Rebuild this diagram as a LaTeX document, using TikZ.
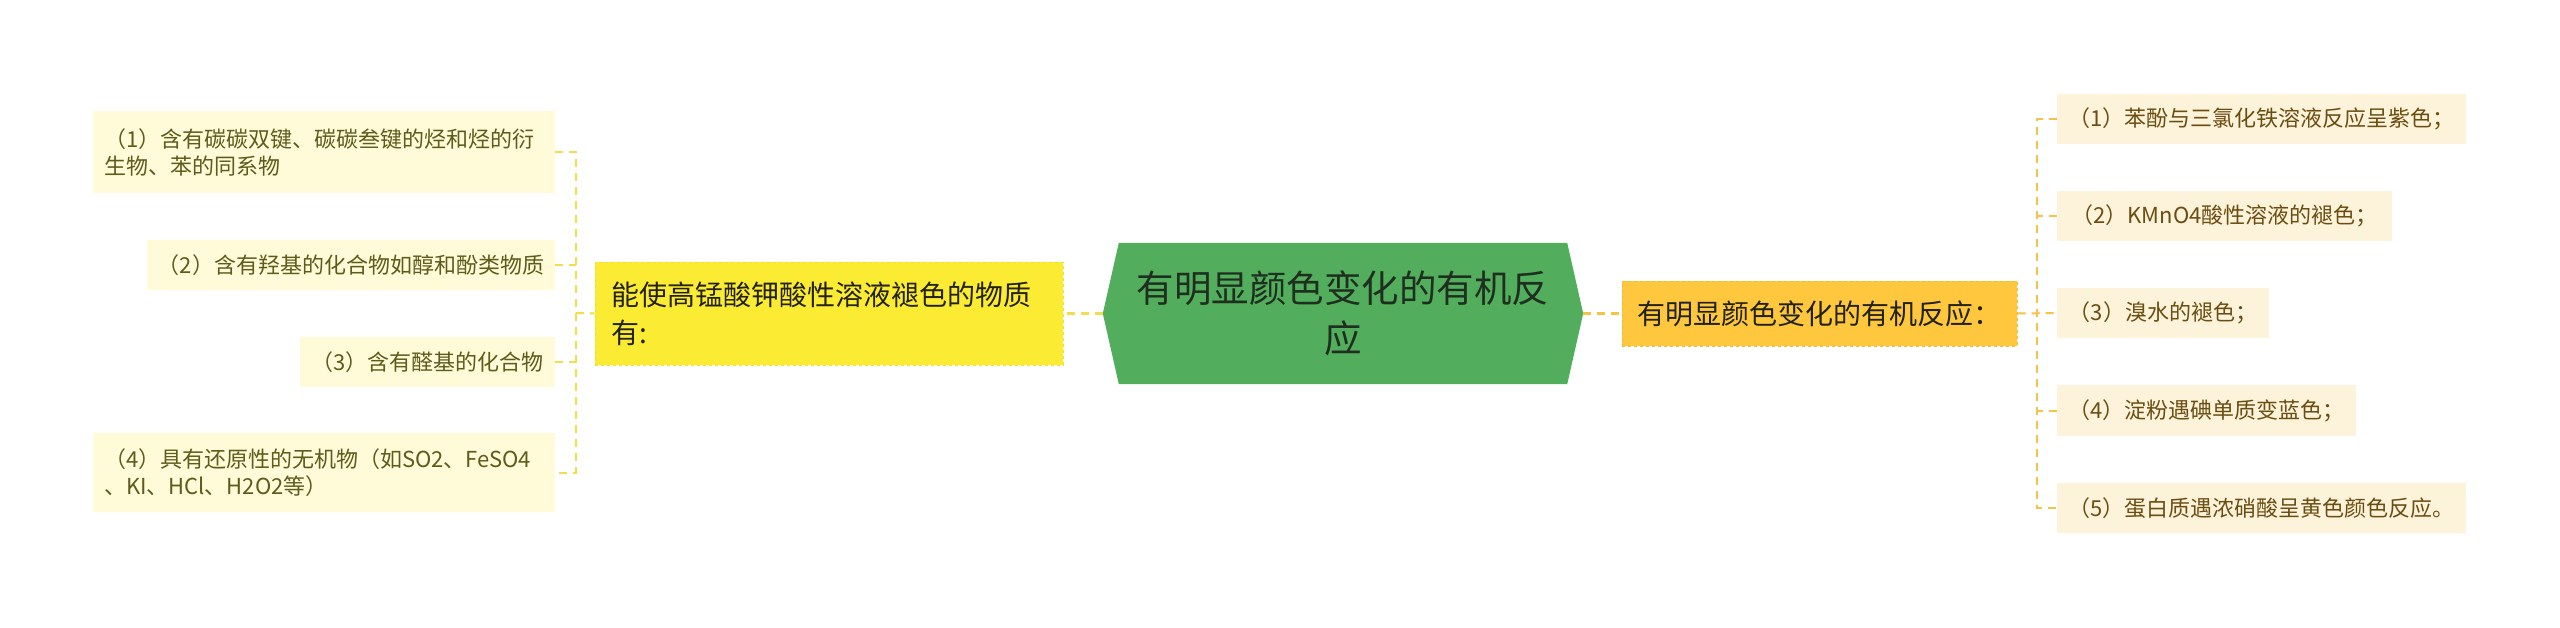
\documentclass[tikz,border=0pt]{standalone}
\usepackage{fontspec}
\setmainfont{Noto Sans CJK SC}
\usetikzlibrary{calc}
\definecolor{lfill}{HTML}{FFFAD8}
\definecolor{ltext}{HTML}{5E5B1B}
\definecolor{rfill}{HTML}{FDF3DA}
\definecolor{rtext}{HTML}{6B4D11}
\definecolor{yfill}{HTML}{FCEB33}
\definecolor{ydraw}{HTML}{F3DE2E}
\definecolor{ytext}{HTML}{222211}
\definecolor{ofill}{HTML}{FEC73E}
\definecolor{odraw}{HTML}{F1BA36}
\definecolor{gfill}{HTML}{52AE5C}
\definecolor{gtext}{HTML}{1F2F1F}
\definecolor{lconn}{HTML}{F2DD4B}
\definecolor{rconn}{HTML}{F5C345}
\begin{document}
\begin{tikzpicture}[x=1pt,y=-1pt,
  leafl/.style={fill=lfill, text=ltext, font=\fontsize{22}{27}\selectfont, inner sep=0pt, minimum height=50pt},
  leafr/.style={fill=rfill, text=rtext, font=\fontsize{22}{27}\selectfont, inner sep=0pt, minimum height=50pt},
  ybox/.style={fill=yfill, draw=ydraw, dashed, line width=1pt, text=ytext, font=\fontsize{28}{38}\selectfont, inner xsep=16pt, inner ysep=0pt, text width=436pt, align=left, minimum width=468pt, minimum height=103pt},
  obox/.style={fill=ofill, draw=odraw, dashed, line width=1pt, text=ytext, font=\fontsize{28}{38}\selectfont, inner sep=0pt, minimum width=395pt, minimum height=65pt},
  gbox/.style={text=gtext, font=\fontsize{37.5}{50}\selectfont, align=center, inner sep=0pt, minimum width=480pt, minimum height=141pt},
  lline/.style={draw=lconn, line width=2pt, dash pattern=on 8pt off 6pt},
  rline/.style={draw=rconn, line width=2pt, dash pattern=on 8pt off 6pt}
]
\useasboundingbox[fill=white] (0,0) rectangle (2560,627);

% central hexagon
\node[gbox] (G) at (1343,313.5) {};
\fill[gfill] ([xshift=16pt]G.north west) -- ([xshift=-16pt]G.north east) -- (G.east)
  -- ([xshift=-16pt]G.south east) -- ([xshift=16pt]G.south west) -- (G.west) -- cycle;
\node[gbox] at (G.center) {有明显颜色变化的有机反\\应};

% left branch
\node[ybox] (Y) at (829,313.5) {能使高锰酸钾酸性溶液褪色的物质\\有:};
\node[leafl, minimum width=462pt, minimum height=82pt, text width=440pt, align=left] (L1) at (324,152)
  {（1）含有碳碳双键、碳碳叁键的烃和烃的衍\\生物、苯的同系物};
\node[leafl, minimum width=408pt] (L2) at (351,265) {（2）含有羟基的化合物如醇和酚类物质};
\node[leafl, minimum width=255pt] (L3) at (427.5,362) {（3）含有醛基的化合物};
\node[leafl, minimum width=462pt, minimum height=79pt, text width=440pt, align=left] (L4) at (324,472.5)
  {（4）具有还原性的无机物（如SO2、FeSO4\\、KI、HCl、H2O2等）};

% right branch
\node[obox] (O) at (1819.5,313.5) {有明显颜色变化的有机反应：};
\node[leafr, minimum width=409pt] (R1) at (2261.5,119) {（1）苯酚与三氯化铁溶液反应呈紫色；};
\node[leafr, minimum width=335pt] (R2) at (2224.5,216) {（2）KMnO4酸性溶液的褪色；};
\node[leafr, minimum width=212pt] (R3) at (2163,313) {（3）溴水的褪色；};
\node[leafr, minimum width=299pt, minimum height=51pt] (R4) at (2206.5,410.5) {（4）淀粉遇碘单质变蓝色；};
\node[leafr, minimum width=409pt] (R5) at (2261.5,508) {（5）蛋白质遇浓硝酸呈黄色颜色反应。};

% connectors
\coordinate (lj) at (576,313);
\coordinate (rj) at (2037,313);
\draw[lline, line width=2.5pt] (G.west) -- (Y.east);
\draw[rline, line width=2.5pt] (G.east) -- (O.west);
\draw[lline] (L1.east) -| (lj) |- (L4.east);
\draw[lline] (L2.east) -- (L2.east -| lj);
\draw[lline] (L3.east) -- (L3.east -| lj);
\draw[lline] (lj) -- (Y.west);
\draw[rline] (R1.west) -| (rj) |- (R5.west);
\draw[rline] (R2.west) -- (R2.west -| rj);
\draw[rline] (R4.west) -- (R4.west -| rj);
\draw[rline] (O.east) -- (R3.west);
\end{tikzpicture}
\end{document}
